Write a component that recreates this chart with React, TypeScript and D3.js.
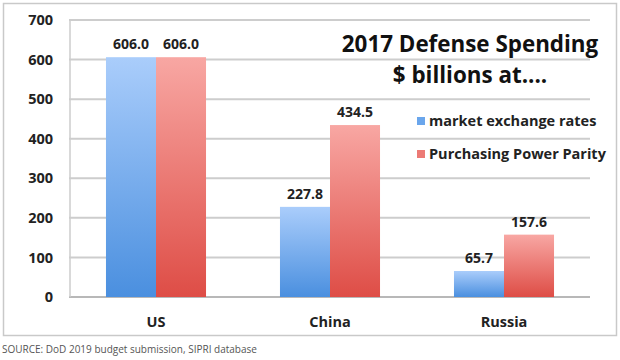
import React from "react";
import * as d3 from "d3";

const categories = ["US", "China", "Russia"];
const marketRates = [606.0, 227.8, 65.7];
const ppp = [606.0, 434.5, 157.6];
const seriesNames = ["market exchange rates", "Purchasing Power Parity"];
const yTicks = [0, 100, 200, 300, 400, 500, 600, 700];
const titleLines = ["2017 Defense Spending", "$ billions at...."];
const sourceText = "SOURCE: DoD 2019 budget submission, SIPRI database";

const W = 620;
const H = 360;
const FONT = "'Open Sans', 'Liberation Sans', sans-serif";

export default function App() {
  const x = d3.scaleBand<string>().domain(categories).range([69, 591]).paddingInner(0.425).paddingOuter(0.2125);
  const x1 = d3.scaleBand<number>().domain([0, 1]).range([0, x.bandwidth()]);
  const y = d3.scaleLinear().domain([0, 700]).range([297, 20]);
  const series = [marketRates, ppp];
  const gradIds = ["gradBlue", "gradRed"];
  const legendColors = ["#6aa6ec", "#ec7a75"];

  return (
    <svg width={W} height={H} style={{ position: "absolute", left: 0, top: 0, background: "#fff" }}>
      <defs>
        <linearGradient id="gradBlue" x1="0" y1="0" x2="0" y2="1">
          <stop offset="0%" stopColor="#aacdfb" />
          <stop offset="100%" stopColor="#4a8fdf" />
        </linearGradient>
        <linearGradient id="gradRed" x1="0" y1="0" x2="0" y2="1">
          <stop offset="0%" stopColor="#f8a7a3" />
          <stop offset="100%" stopColor="#de4d46" />
        </linearGradient>
      </defs>
      <rect x={3.5} y={3.5} width={613} height={332} fill="#fff" stroke="#c9c9c9" strokeWidth={1.5} />
      {yTicks.map((t) => (
        <g key={t}>
          <line x1={69} x2={590} y1={y(t)} y2={y(t)} stroke={t === 0 ? "#b8b8b8" : "#cdcdcd"} strokeWidth={2} />
          <text x={53} y={y(t)} dy="0.35em" textAnchor="end" fontFamily={FONT} fontWeight={700} fontSize={14.5} fill="#222">
            {t}
          </text>
        </g>
      ))}
      <line x1={70} x2={70} y1={y(700)} y2={y(0)} stroke="#cdcdcd" strokeWidth={1.5} />
      {categories.map((c, i) => (
        <g key={c}>
          {series.map((s, k) => (
            <g key={k}>
              <rect
                x={(x(c) as number) + (x1(k) as number)}
                y={y(s[i])}
                width={x1.bandwidth()}
                height={y(0) - y(s[i])}
                fill={`url(#${gradIds[k]})`}
              />
              <text
                x={(x(c) as number) + (x1(k) as number) + x1.bandwidth() / 2}
                y={y(s[i]) - 8}
                textAnchor="middle"
                fontFamily={FONT}
                fontWeight={700}
                fontSize={14}
                fill="#222"
              >
                {s[i].toFixed(1)}
              </text>
            </g>
          ))}
          <text x={(x(c) as number) + x.bandwidth() / 2} y={327} textAnchor="middle" fontFamily={FONT} fontWeight={700} fontSize={14.5} fill="#222">
            {c}
          </text>
        </g>
      ))}
      {titleLines.map((l, i) => (
        <text key={i} x={470} y={52 + i * 31} textAnchor="middle" fontFamily={FONT} fontWeight={700} fontSize={22.4} fill="#111">
          {l}
        </text>
      ))}
      {seriesNames.map((n, i) => (
        <g key={n}>
          <rect x={417} y={117 + i * 33} width={8} height={8} fill={legendColors[i]} />
          <text x={429} y={121 + i * 33} dy="0.35em" fontFamily={FONT} fontWeight={700} fontSize={14.5} fill="#222">
            {n}
          </text>
        </g>
      ))}
      <text x={2} y={353} fontFamily={FONT} fontSize={10} fill="#555">
        {sourceText}
      </text>
    </svg>
  );
}
